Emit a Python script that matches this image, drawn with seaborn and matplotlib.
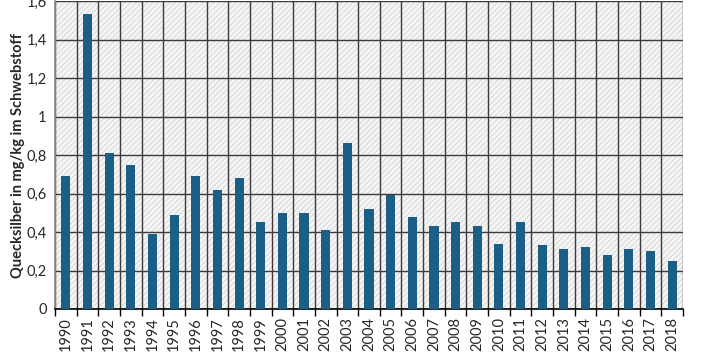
import matplotlib
matplotlib.use('Agg')
import matplotlib.pyplot as plt
import matplotlib.ticker as mticker
import seaborn as sns
import numpy as np

# Daten: Quecksilber im Schwebstoff (Jahresmittel)
jahre = [str(j) for j in range(1990, 2019)]
werte = [0.69, 1.53, 0.81, 0.75, 0.39, 0.49, 0.69, 0.62, 0.68, 0.45,
         0.50, 0.50, 0.41, 0.86, 0.52, 0.59, 0.48, 0.43, 0.45, 0.43,
         0.34, 0.45, 0.33, 0.31, 0.32, 0.28, 0.31, 0.30, 0.25]
y_ticks = [0, 0.2, 0.4, 0.6, 0.8, 1.0, 1.2, 1.4, 1.6]

sns.set_theme(style='white')
plt.rcParams['font.family'] = ['Lato', 'DejaVu Sans']
plt.rcParams['hatch.linewidth'] = 0.5
plt.rcParams['hatch.color'] = '#cccccc'

fig = plt.figure(figsize=(7.07, 3.54), dpi=100)
ax = fig.add_axes([55 / 707, 45 / 354, (683 - 55) / 707, (309 - 1) / 354])

# schraffierter Hintergrund
ax.patch.set_facecolor('#f5f5f5')
ax.patch.set_hatch('//////')
ax.patch.set_edgecolor('#cccccc')

sns.barplot(x=jahre, y=werte, color='#1b5e86', width=0.42, saturation=1,
            edgecolor='none', ax=ax, zorder=3)

ax.set_xlim(-0.5, len(jahre) - 0.5)
ax.set_ylim(0, 1.6)
ax.set_yticks(y_ticks)
ax.yaxis.set_major_formatter(mticker.FuncFormatter(
    lambda v, p: ('%g' % round(v, 1)).replace('.', ',')))

# Gitter: horizontal an y-Ticks, vertikal an Kategoriegrenzen
ax.set_xticks(np.arange(len(jahre) + 1) - 0.5, minor=True)
ax.grid(True, which='major', axis='y', color='#3c3c3c', linewidth=1, zorder=1)
ax.grid(True, which='minor', axis='x', color='#3c3c3c', linewidth=1, zorder=1)
ax.grid(False, which='major', axis='x')
ax.set_axisbelow(True)

ax.tick_params(axis='x', which='major', length=0, labelsize=10.5, rotation=90, pad=6)
ax.tick_params(axis='x', which='minor', length=5, width=1, color='black', direction='out')
ax.tick_params(axis='y', length=0, labelsize=10.5, pad=6)
ax.xaxis.set_tick_params(bottom=True, which='minor')

for s in ['top', 'right']:
    ax.spines[s].set_visible(False)
ax.spines['left'].set_color('#8c8c8c')
ax.spines['bottom'].set_color('black')
ax.spines['bottom'].set_linewidth(1.2)

ax.set_xlabel('')
ax.set_ylabel('Quecksilber in mg/kg im Schwebstoff', fontsize=10.5,
              fontweight='bold', labelpad=1)

fig.savefig('out.png', dpi=100)
